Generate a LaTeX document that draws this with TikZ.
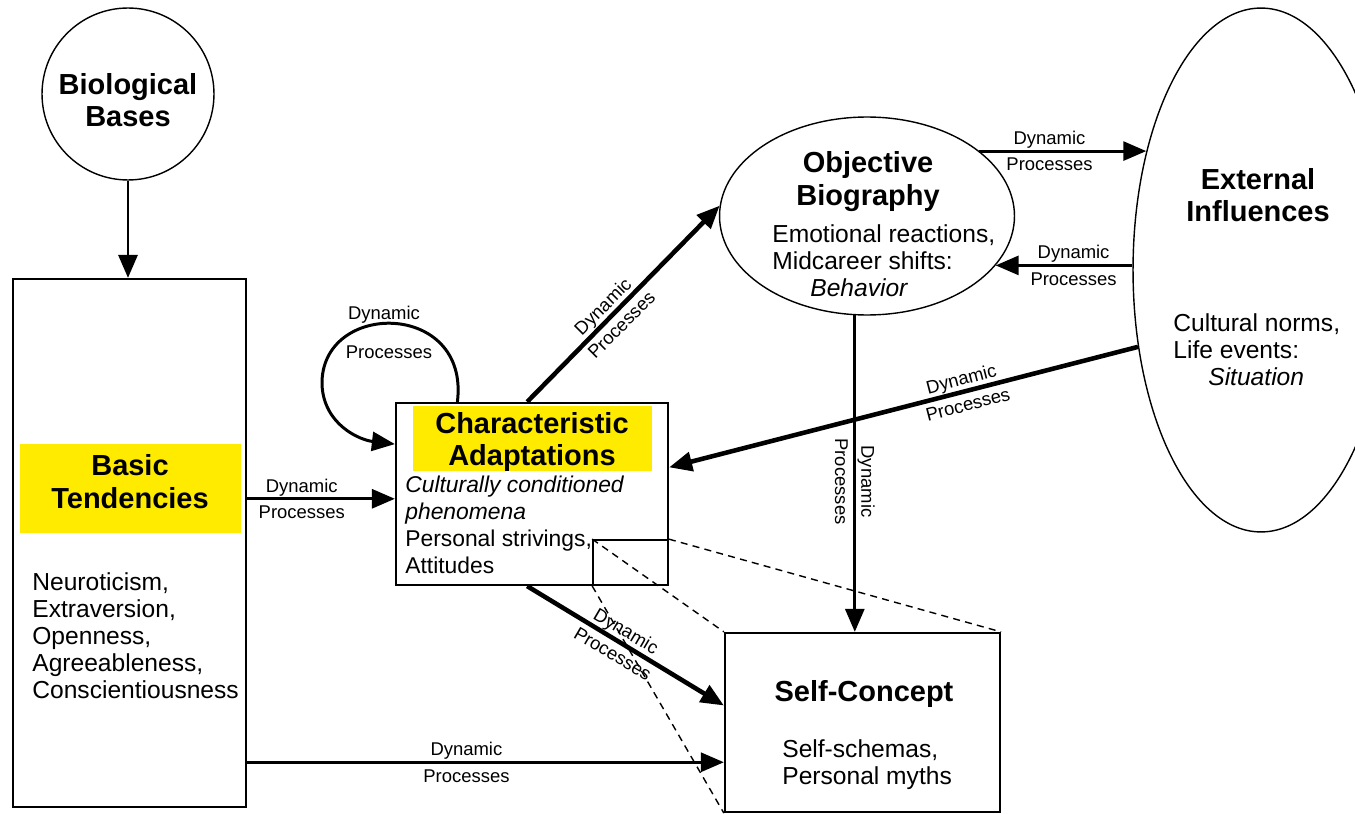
\documentclass[tikz,border=0pt]{standalone}
\usepackage{fontspec}
\setmainfont{Liberation Sans}
\usetikzlibrary{shapes.geometric, positioning, arrows.meta}
\tikzset{>={Triangle[length=4.6mm,width=3.8mm]}}
\definecolor{marker}{RGB}{255,235,0}

\begin{document}
\begin{tikzpicture}[x=0.02cm, y=-0.02cm, box/.style={draw, line width=1.3pt, inner sep=0pt}, oval/.style={draw, ellipse, line width=0.8pt, inner sep=0pt}, hilite/.style={fill=marker, inner sep=0pt}, title/.style={font=\fontsize{16.5}{18.5}\selectfont\bfseries, align=center, inner sep=0pt}, body/.style={font=\fontsize{14}{15.4}\selectfont, align=left, inner sep=0pt, anchor=north west}, dyn/.style={font=\fontsize{10.5}{15}\selectfont, align=center, inner sep=0pt}, flow/.style={->, line width=1.7pt}, heavyflow/.style={->, line width=2.6pt}, zoomline/.style={line width=0.8pt, dash pattern=on 4pt off 3pt}]

    \clip (0,0) rectangle (1355,814);

    %Nodes
    \node[circle, draw, line width=0.8pt, minimum size=3.44cm] (bio) at (128,94) {};
    \node[title] (biotitle) at (128,100) {Biological\\Bases};

    \node[box, minimum width=4.66cm, minimum height=10.56cm] (basic) at (129.5,543) {};
    \node[hilite, minimum width=4.42cm, minimum height=1.78cm] (basicmark) at (130.5,488.5) {};
    \node[title] (basictitle) at (130,481.5) {Basic\\Tendencies};
    \node[body] (traits) at (32,572) {Neuroticism,\\Extraversion,\\Openness,\\Agreeableness,\\Conscientiousness};

    \node[box, minimum width=5.44cm, minimum height=3.64cm] (charad) at (532,494) {};
    \node[hilite, minimum width=4.78cm, minimum height=1.3cm] (charadmark) at (532.5,438.5) {};
    \node[title] (charadtitle) at (532,442) {Characteristic\\Adaptations};
    \node[body, font=\fontsize{13}{15.2}\selectfont] (charadbody) at (405,476) {{\itshape Culturally conditioned}\\{\itshape phenomena}\\Personal strivings,\\Attitudes};
    \node[draw, line width=1pt, inner sep=0pt, minimum width=1.5cm, minimum height=0.9cm] (focus) at (630.5,562.5) {};

    \node[box, minimum width=5.5cm, minimum height=3.58cm] (selfc) at (862.5,722.5) {};
    \node[title] (selftitle) at (864,694) {Self-Concept};
    \node[body] (selfbody) at (782,739) {Self-schemas,\\Personal myths};

    \node[oval, minimum width=5.9cm, minimum height=3.96cm] (objbio) at (867,216) {};
    \node[title] (objtitle) at (868,181.5) {Objective\\Biography};
    \node[body] (objbody) at (772,224) {Emotional reactions,\\Midcareer shifts:\\\hspace*{0.76cm}\textit{Behavior}};

    \node[oval, minimum width=5.12cm, minimum height=10.48cm] (ext) at (1261,270) {};
    \node[title] (exttitle) at (1258,195) {External\\Influences};
    \node[body] (extbody) at (1173,313) {Cultural norms,\\Life events:\\\hspace*{0.7cm}\textit{Situation}};

    \node[dyn] (loopa) at (384,315) {Dynamic};
    \node[dyn] (loopb) at (389,352) {Processes};

    %Lines
    \draw[flow] (bio.south) -- (bio.south |- basic.north);
    \draw[flow] (basic.east |- charad.182) -- node[dyn, pos=0.37] (lblbc) {Dynamic\\Processes} (charad.182);
    \draw[flow] (basic.east |- selfc.196) -- node[dyn, pos=0.46] (lblbs) {Dynamic\\Processes} (selfc.196);
    \draw[flow] (charad.129) .. controls (470,300) and (320,300) .. (322,385) .. controls (324,425) and (360,440) .. (charad.160);
    \draw[heavyflow] (charad.93) -- node[dyn, rotate=45, pos=0.44] (lblco) {Dynamic\\Processes} (objbio.176);
    \draw[flow] (objbio.30) -- node[dyn, pos=0.42] (lbloe) {Dynamic\\Processes} (objbio.30 -| ext.134);
    \draw[flow] (ext.west |- objbio.-21) -- node[dyn, pos=0.43] (lbleo) {Dynamic\\Processes} (objbio.-21);
    \draw[heavyflow] (ext.212) -- node[dyn, rotate=14.6, pos=0.37] (lblec) {Dynamic\\Processes} (charad.11);
    \draw[flow] (objbio.263) -- node[dyn, rotate=-90, pos=0.525] (lblos) {Dynamic\\Processes} (objbio.263 |- selfc.north);
    \draw[heavyflow] (charad.267) -- node[dyn, rotate=-30.5, pos=0.47] (lblcs) {Dynamic\\Processes} (selfc.173);

    \draw[zoomline] (focus.north west) -- (selfc.north west);
    \draw[zoomline] (focus.north east) -- (selfc.north east);
    \draw[zoomline] (focus.south west) -- (selfc.south west);

\end{tikzpicture}
\end{document}
